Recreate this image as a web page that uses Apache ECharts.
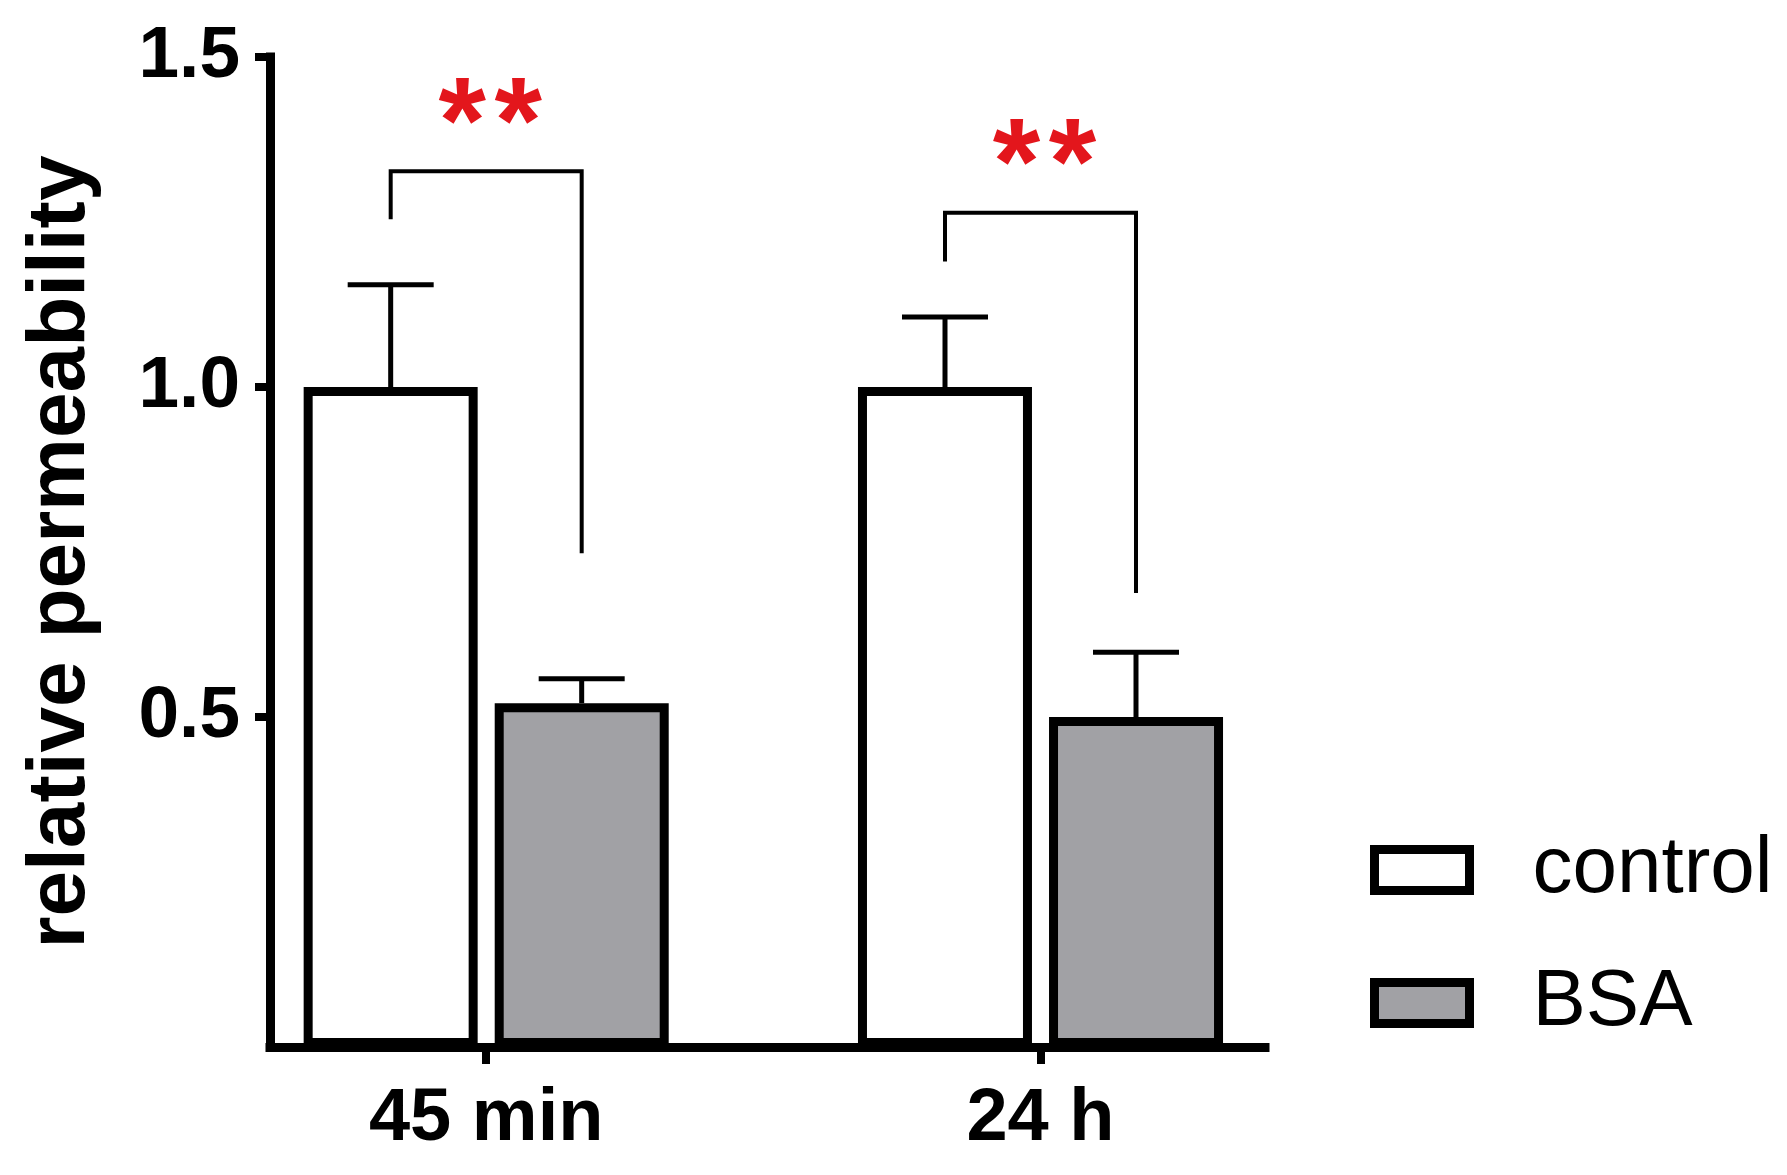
<!DOCTYPE html>
<html>
<head>
<meta charset="utf-8">
<title>relative permeability</title>
<script src="https://cdn.jsdelivr.net/npm/echarts@6/dist/echarts.min.js"></script>
<style>
    html, body { margin: 0; padding: 0; background: #fff; }
    #chart { width: 1787px; height: 1175px; }
</style>
</head>
<body>
<div id="chart"></div>
<script>
// values
var categories = ['45 min', '24 h'];
var seriesNames = ['control', 'BSA'];
var controlMean = [1.0, 1.0];
var controlSem = [0.155, 0.106];
var bsaMean = [0.521, 0.50];
var bsaSem = [0.037, 0.098];

// significance brackets: top, left leg end, right leg end, star height
var bracketTop = [1.327, 1.264];
var bracketLeftEnd = [1.254, 1.19];
var bracketRightEnd = [0.748, 0.688];
var starLevel = [1.427, 1.365];
var starText = ['*', '*'];

var yTicks = [0.5, 1.0, 1.5];

var FONT = "'Liberation Sans', Arial, Helvetica, sans-serif";
var BAR_WIDTH = 174;
var BAR_GAP = 17;
var BAR_OFFSET = (BAR_WIDTH + BAR_GAP) / 2;

var chartDom = document.getElementById('chart');
var myChart = echarts.init(chartDom);

var toPairs = function(values) {
    var list = [];
    for (var i = 0; i < values.length; i++) {
        list.push([i, values[i]]);
    }
    return list;
};

var errorData = [];
for (var i = 0; i < categories.length; i++) {
    errorData.push([i, controlMean[i], controlMean[i] + controlSem[i], -1]);
    errorData.push([i, bsaMean[i], bsaMean[i] + bsaSem[i], 1]);
}

var bracketData = [];
for (var j = 0; j < categories.length; j++) {
    bracketData.push([j, bracketTop[j], bracketLeftEnd[j], bracketRightEnd[j], starLevel[j]]);
}

var renderError = function(params, api) {
    var side = api.value(3);
    var base = api.coord([api.value(0), api.value(1)]);
    var top = api.coord([api.value(0), api.value(2)]);
    var x = base[0] + side * BAR_OFFSET;
    var style = { stroke: '#000', lineWidth: 5 };
    return {
        type: 'group',
        children: [
            { type: 'line', shape: { x1: x, y1: base[1], x2: x, y2: top[1] }, style: style },
            { type: 'line', shape: { x1: x - 43, y1: top[1], x2: x + 43, y2: top[1] }, style: style }
        ]
    };
};

var renderBracket = function(params, api) {
    var idx = api.value(0);
    var c = api.coord([idx, api.value(1)]);
    var yTop = c[1];
    var yLeft = api.coord([idx, api.value(2)])[1];
    var yRight = api.coord([idx, api.value(3)])[1];
    var yStar = api.coord([idx, api.value(4)])[1];
    var xl = c[0] - BAR_OFFSET;
    var xr = c[0] + BAR_OFFSET;
    var xm = c[0] + 4;
    var star = function(x) {
        return {
            type: 'text',
            style: {
                text: starText[0],
                x: x, y: yStar + 23,
                align: 'center', verticalAlign: 'middle',
                fill: '#e3161c',
                font: 'bold 122px ' + FONT
            }
        };
    };
    return {
        type: 'group',
        children: [
            {
                type: 'polyline',
                shape: { points: [[xl, yLeft], [xl, yTop], [xr, yTop], [xr, yRight]] },
                style: { stroke: '#000', lineWidth: 4, fill: null }
            },
            star(xm - 28),
            star(xm + 28)
        ]
    };
};

var chartOption = {
    backgroundColor: '#fff',
    animation: false,
    grid: { left: 270, top: 57, width: 995, height: 990 },
    legend: {
        orient: 'vertical',
        left: 1365,
        top: 825,
        itemWidth: 95,
        itemHeight: 41,
        itemGap: 53,
        icon: 'rect',
        itemStyle: { borderColor: '#000', borderWidth: 9 },
        textStyle: {
            fontFamily: FONT, fontSize: 80, color: '#000',
            lineHeight: 80, padding: [0, 0, 0, 58]
        },
        data: seriesNames
    },
    xAxis: {
        type: 'value',
        min: -0.39,
        max: 1.405,
        axisLine: { show: true, lineStyle: { color: '#000', width: 9, cap: 'square' } },
        axisTick: { show: true, customValues: [0, 1], length: 17, lineStyle: { color: '#000', width: 8 } },
        axisLabel: {
            customValues: [0, 1],
            formatter: function(v) { return categories[Math.round(v)]; },
            fontFamily: FONT, fontSize: 74, fontWeight: 'bold', color: '#000', margin: 36
        },
        splitLine: { show: false }
    },
    yAxis: {
        type: 'value',
        min: 0,
        max: 1.5,
        interval: 0.5,
        name: 'relative permeability',
        nameLocation: 'middle',
        nameGap: 168,
        nameTextStyle: { fontFamily: FONT, fontSize: 82, fontWeight: 'bold', color: '#000' },
        axisLine: { show: true, onZero: false, lineStyle: { color: '#000', width: 9, cap: 'square' } },
        axisTick: { show: true, customValues: yTicks, length: 15, lineStyle: { color: '#000', width: 8 } },
        axisLabel: {
            customValues: yTicks,
            formatter: function(v) { return v.toFixed(1); },
            fontFamily: FONT, fontSize: 73, fontWeight: 'bold', color: '#000', margin: 30
        },
        splitLine: { show: false }
    },
    series: [
        {
            name: seriesNames[0],
            type: 'bar',
            barWidth: BAR_WIDTH,
            barGap: (BAR_GAP / BAR_WIDTH * 100).toFixed(1) + '%',
            itemStyle: { color: '#fff', borderColor: '#000', borderWidth: 9 },
            data: toPairs(controlMean),
            z: 2
        },
        {
            name: seriesNames[1],
            type: 'bar',
            barWidth: BAR_WIDTH,
            barGap: (BAR_GAP / BAR_WIDTH * 100).toFixed(1) + '%',
            itemStyle: { color: '#a1a1a5', borderColor: '#000', borderWidth: 9 },
            data: toPairs(bsaMean),
            z: 2
        },
        {
            type: 'custom',
            renderItem: renderError,
            data: errorData,
            z: 3
        },
        {
            type: 'custom',
            renderItem: renderBracket,
            data: bracketData,
            z: 3
        }
    ]
};

myChart.setOption(chartOption, true);
</script>
</body>
</html>
